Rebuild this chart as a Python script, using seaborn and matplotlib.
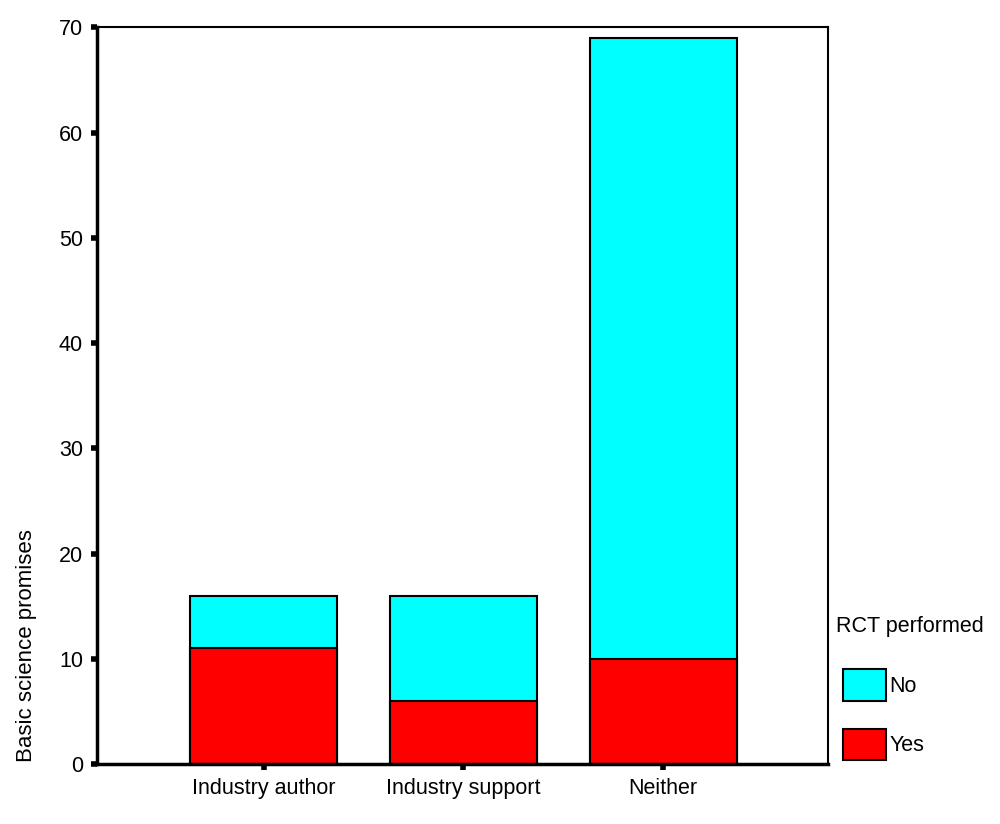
import pandas as pd
import seaborn as sns
import matplotlib.pyplot as plt
from matplotlib.patches import Patch

# Values
groups = ["Industry author", "Industry support", "Neither"]
rct_yes = [11, 6, 10]
rct_no = [5, 10, 59]
totals = [y + n for y, n in zip(rct_yes, rct_no)]

df = pd.DataFrame({"group": groups, "yes": rct_yes, "total": totals})

sns.set_style("white")
plt.rcParams["font.family"] = ["Liberation Sans", "DejaVu Sans"]
plt.rcParams["text.color"] = "black"
plt.rcParams["xtick.color"] = "black"
plt.rcParams["ytick.color"] = "black"
plt.rcParams["axes.labelcolor"] = "black"

FS = 15.5

fig = plt.figure(figsize=(10, 8.24), dpi=100)
ax = fig.add_axes([0.097, 0.0728, 0.731, 0.894])

# stacked bars: full height in cyan, "Yes" part drawn over it in red
sns.barplot(data=df, x="group", y="total", color="#00ffff", width=0.735,
            edgecolor="black", linewidth=1.5, saturation=1, ax=ax)
sns.barplot(data=df, x="group", y="yes", color="#ff0000", width=0.735,
            edgecolor="black", linewidth=1.5, saturation=1, ax=ax)

ax.set_xlim(-0.835, 2.825)
ax.set_ylim(0, 70)
ax.set_yticks(range(0, 71, 10))
ax.set_xlabel("")
ax.set_ylabel("Basic science promises", fontsize=16)
ax.yaxis.set_label_coords(-0.082, 0.003, transform=ax.transAxes)
ax.yaxis.label.set_va("bottom")
ax.yaxis.label.set_ha("left")

for side in ["left", "bottom"]:
    ax.spines[side].set_linewidth(2.5)
for side in ["top", "right"]:
    ax.spines[side].set_linewidth(1.5)
for s in ax.spines.values():
    s.set_color("black")

ax.tick_params(axis="both", direction="out", length=4, width=4, color="black",
               labelsize=FS, pad=6, bottom=True, left=True)

# legend title as separate text so it sits a bit left of the swatches
fig.text(0.836, 0.24, "RCT performed", fontsize=FS, ha="left", va="center")
handles = [Patch(facecolor="#00ffff", edgecolor="black", linewidth=1.5, label="No"),
           Patch(facecolor="#ff0000", edgecolor="black", linewidth=1.5, label="Yes")]
leg = ax.legend(handles=handles, loc="upper left",
                bbox_to_anchor=(0.843, 0.188), bbox_transform=fig.transFigure,
                frameon=False, fontsize=FS,
                handlelength=2.0, handleheight=1.87, handletextpad=0.15,
                labelspacing=1.3, borderaxespad=0, borderpad=0)

fig.savefig("out.png", dpi=100)
